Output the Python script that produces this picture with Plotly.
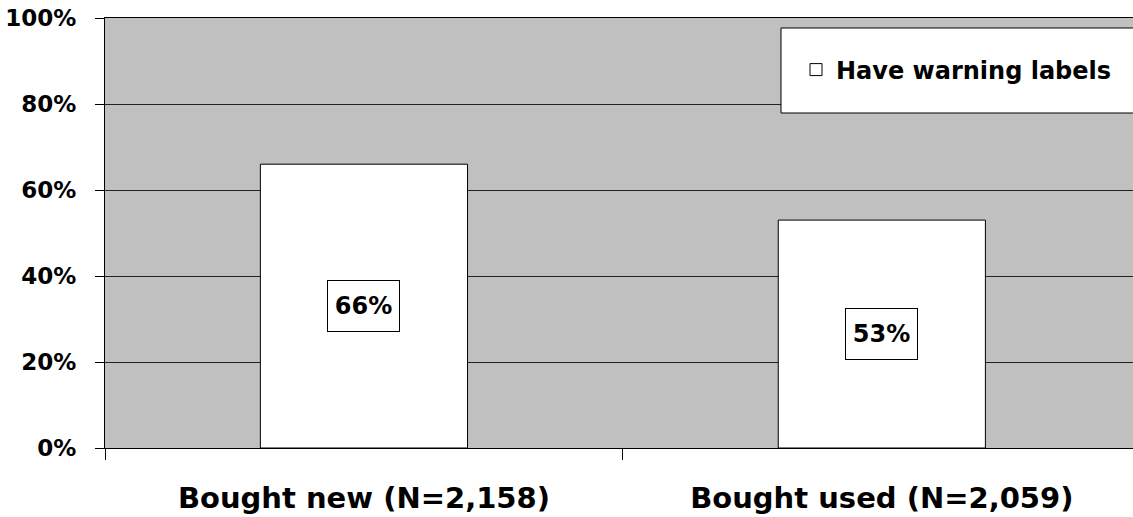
import plotly.graph_objects as go

categories = ["Bought new (N=2,158)", "Bought used (N=2,059)"]
values = [66, 53]
value_labels = ["66%", "53%"]
series_name = "Have warning labels"
y_tick_vals = [0, 20, 40, 60, 80, 100]
y_tick_text = ["0%", "20%", "40%", "60%", "80%", "100%"]

FONT = "DejaVu Sans"

fig = go.Figure()
fig.add_trace(go.Bar(
    x=categories,
    y=values,
    name=series_name,
    width=0.4,
    marker=dict(color="white", line=dict(color="black", width=1)),
    showlegend=True,
    hoverinfo="skip",
))

for cat, v, lab in zip(categories, values, value_labels):
    fig.add_annotation(
        x=cat, y=v / 2, xref="x", yref="y", text=lab, showarrow=False,
        font=dict(family=FONT, size=24, color="black", weight="bold"),
        bgcolor="white", bordercolor="black", borderwidth=1, borderpad=0,
        width=71, height=50, xanchor="center", yanchor="middle",
    )

# legend frame
fig.add_shape(type="rect", xref="paper", yref="paper",
              x0=(781 - 105) / 1028, x1=1.02,
              y0=(448 - 113) / 430, y1=(448 - 28) / 430,
              fillcolor="white", line=dict(color="black", width=1), layer="above")

fig.update_layout(
    width=1133, height=517,
    margin=dict(l=105, r=0, t=18, b=69),
    paper_bgcolor="white", plot_bgcolor="#C0C0C0",
    bargap=0.6,
    showlegend=True,
    legend=dict(
        x=(796 - 105) / 1028, y=(448 - 70) / 430, xanchor="left", yanchor="middle",
        bgcolor="rgba(0,0,0,0)", borderwidth=0,
        font=dict(family=FONT, size=24, color="black", weight="bold"),
    ),
    xaxis=dict(
        type="category",
        range=[-0.5, 1.485],
        tickson="boundaries", ticks="outside", ticklen=11, tickcolor="black", tickwidth=1,
        showline=True, linecolor="black", linewidth=1, mirror=True,
        showgrid=False, zeroline=False,
        tickfont=dict(family=FONT, size=29, color="black", weight="bold"),
        ticklabelstandoff=24,
    ),
    yaxis=dict(
        range=[0, 100],
        tickmode="array", tickvals=y_tick_vals, ticktext=y_tick_text,
        ticks="outside", ticklen=9, tickcolor="black", tickwidth=1,
        showline=True, linecolor="black", linewidth=1,
        showgrid=True, gridcolor="#222222", gridwidth=1, zeroline=False,
        tickfont=dict(family=FONT, size=23, color="black", weight="bold"),
        ticklabelstandoff=14,
    ),
)

fig.write_html("out.html", config={"displayModeBar": False},
               post_script="document.body.style.margin='0px';document.body.style.overflow='hidden';")
